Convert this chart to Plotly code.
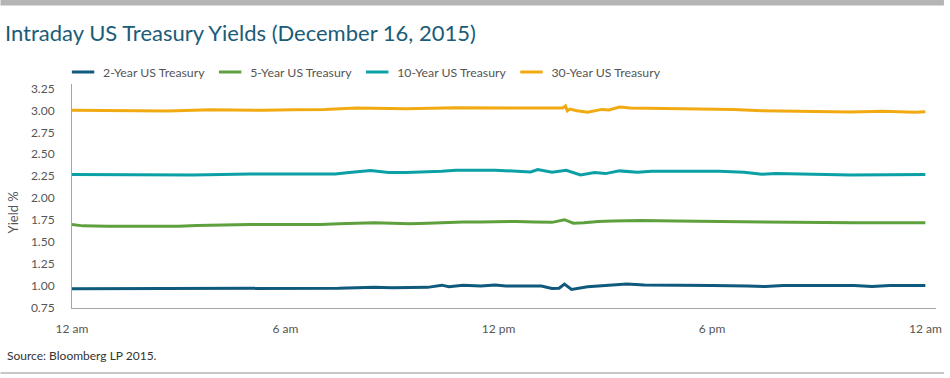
import plotly.graph_objects as go

# ---- data (hours after midnight, yield %) ----
t_2y = [0, 1, 2, 3, 4, 5, 6, 7, 7.5, 8, 8.5, 9, 9.5, 10, 10.4, 10.6, 11, 11.5, 11.9, 12.2, 12.7, 13.2, 13.5, 13.7, 13.85, 14.05, 14.5, 14.8, 15.2, 15.6, 16.1, 17, 17.5, 18, 19, 19.5, 20, 20.5, 21, 22, 22.5, 23, 24]
v_2y = [0.970, 0.970, 0.970, 0.970, 0.975, 0.970, 0.970, 0.970, 0.975, 0.980, 0.985, 0.980, 0.982, 0.985, 1.010, 0.992, 1.008, 1.000, 1.011, 1.000, 1.000, 1.000, 0.973, 0.975, 1.023, 0.962, 0.992, 1.000, 1.019, 1.023, 1.011, 1.011, 1.008, 1.005, 1.000, 0.995, 1.005, 1.002, 1.005, 1.005, 0.995, 1.005, 1.005]

t_5y = [0, 0.3, 1, 2, 3, 3.5, 4, 5, 6, 7, 7.5, 8, 8.5, 9, 9.5, 10, 10.5, 11, 11.5, 12, 12.5, 13, 13.5, 13.85, 14.1, 14.4, 14.8, 15.2, 16, 17, 18, 19, 20, 21, 22, 23, 24]
v_5y = [1.700, 1.685, 1.680, 1.680, 1.680, 1.690, 1.695, 1.700, 1.700, 1.700, 1.710, 1.715, 1.720, 1.715, 1.710, 1.715, 1.725, 1.730, 1.730, 1.735, 1.735, 1.730, 1.725, 1.755, 1.715, 1.720, 1.735, 1.740, 1.745, 1.740, 1.735, 1.730, 1.725, 1.725, 1.720, 1.720, 1.720]

t_10y = [0, 1.8, 2.5, 3.4, 5, 7.4, 7.8, 8.4, 8.9, 9.4, 10.4, 10.8, 11.9, 12.9, 13.1, 13.5, 13.9, 14.3, 14.7, 15.0, 15.4, 15.9, 16.3, 18.2, 18.9, 19.4, 19.8, 21.0, 21.9, 24]
v_10y = [2.269, 2.269, 2.261, 2.265, 2.276, 2.276, 2.292, 2.314, 2.292, 2.292, 2.307, 2.318, 2.318, 2.299, 2.326, 2.295, 2.318, 2.265, 2.292, 2.280, 2.311, 2.295, 2.307, 2.307, 2.295, 2.273, 2.280, 2.273, 2.265, 2.269]

t_30y = [0, 1.8, 2.0, 2.7, 3.9, 4.8, 5.4, 6.2, 7.1, 8.0, 9.4, 10.8, 11.9, 13.0, 13.8, 13.88, 13.93, 14.0, 14.2, 14.5, 14.7, 14.9, 15.1, 15.4, 15.7, 17.2, 18.6, 19.4, 20.5, 21.9, 22.8, 23.7, 24]
v_30y = [3.000, 3.000, 2.992, 2.992, 3.008, 3.000, 3.000, 3.008, 3.011, 3.026, 3.019, 3.030, 3.026, 3.026, 3.026, 3.050, 2.995, 3.015, 2.995, 2.978, 2.992, 3.011, 3.005, 3.038, 3.026, 3.019, 3.011, 2.996, 2.992, 2.981, 2.989, 2.977, 2.985]

series_names = ["2-Year US Treasury", "5-Year US Treasury", "10-Year US Treasury", "30-Year US Treasury"]
series_colors = ["#0f5a7c", "#5fa03e", "#0aa0a6", "#f2aa12"]
series_t = [t_2y, t_5y, t_10y, t_30y]
series_v = [v_2y, v_5y, v_10y, v_30y]

x_tickvals = [0, 6, 12, 18, 24]
x_ticktext = ["12 am", "6 am", "12 pm", "6 pm", "12 am"]
y_tickvals = [0.75, 1.00, 1.25, 1.50, 1.75, 2.00, 2.25, 2.50, 2.75, 3.00, 3.25]

FONT = "Lato"

fig = go.Figure()
for name, color, t, v in zip(series_names, series_colors, series_t, series_v):
    fig.add_trace(go.Scatter(x=t, y=v, mode="lines", name=name,
                             line=dict(color=color, width=3),
                             showlegend=False, hoverinfo="skip"))
    # legend-only entry with short line sample
    fig.add_trace(go.Scatter(x=[None], y=[None], mode="markers", name=name,
                             marker=dict(symbol="line-ew", size=16,
                                         line=dict(color=color, width=3)),
                             showlegend=True))

W, H = 950, 378
L, R, T, B = 72, 8, 84, 70
pw, ph = W - L - R, H - T - B

def px(xp):
    return (xp - L) / pw

def py(yp):
    return (H - B - yp) / ph

fig.update_layout(
    width=W, height=H,
    margin=dict(l=L, r=R, t=T, b=B),
    paper_bgcolor="white", plot_bgcolor="white",
    font=dict(family=FONT, size=12, color="#555555"),
    title=dict(text="Intraday US Treasury Yields (December 16, 2015)",
               font=dict(family=FONT, size=22, color="#1b5c77"),
               x=5 / W, xanchor="left", xref="container",
               y=1 - 33 / H, yanchor="middle", yref="container"),
    showlegend=True,
    legend=dict(orientation="h", x=px(63), xanchor="left", y=py(72), yanchor="middle",
                font=dict(family=FONT, size=12.3, color="#555555"),
                itemwidth=30, tracegroupgap=0, bgcolor="rgba(0,0,0,0)"),
    xaxis=dict(range=[0, 24.3], tickvals=x_tickvals, ticktext=x_ticktext,
               showgrid=False, zeroline=False, showline=True, linecolor="#a6a6a6",
               linewidth=1, ticks="", ticklabelstandoff=10,
               tickfont=dict(family=FONT, size=12, color="#555555")),
    yaxis=dict(range=[0.75, 3.30], tickvals=y_tickvals, tickformat=".2f",
               showgrid=False, zeroline=False, showline=True, linecolor="#a6a6a6",
               linewidth=1, ticks="", ticklabelstandoff=14,
               tickfont=dict(family=FONT, size=12, color="#555555")),
    annotations=[
        dict(text="Yield %", textangle=-90, xref="paper", yref="paper",
             x=px(13), y=py(212), xanchor="center", yanchor="middle", showarrow=False,
             font=dict(family=FONT, size=13, color="#555555")),
        dict(text="Source: Bloomberg LP 2015.", xref="paper", yref="paper",
             x=px(5), y=py(355), xanchor="left", yanchor="middle", showarrow=False,
             font=dict(family=FONT, size=12, color="#333333")),
    ],
    shapes=[
        dict(type="rect", xref="paper", yref="paper", x0=px(0), x1=px(W), y0=py(5.5), y1=py(0),
             fillcolor="#b5b5b5", line=dict(width=0), layer="above"),
        dict(type="line", xref="paper", yref="paper", x0=px(0), x1=px(W), y0=py(373), y1=py(373),
             line=dict(color="#b5b5b5", width=1.5)),
    ],
)

fig.write_html(
    "out.html",
    config={"displayModeBar": False},
    post_script="document.body.style.margin='0';document.body.style.overflow='hidden';"
                "document.documentElement.style.overflow='hidden';",
)
